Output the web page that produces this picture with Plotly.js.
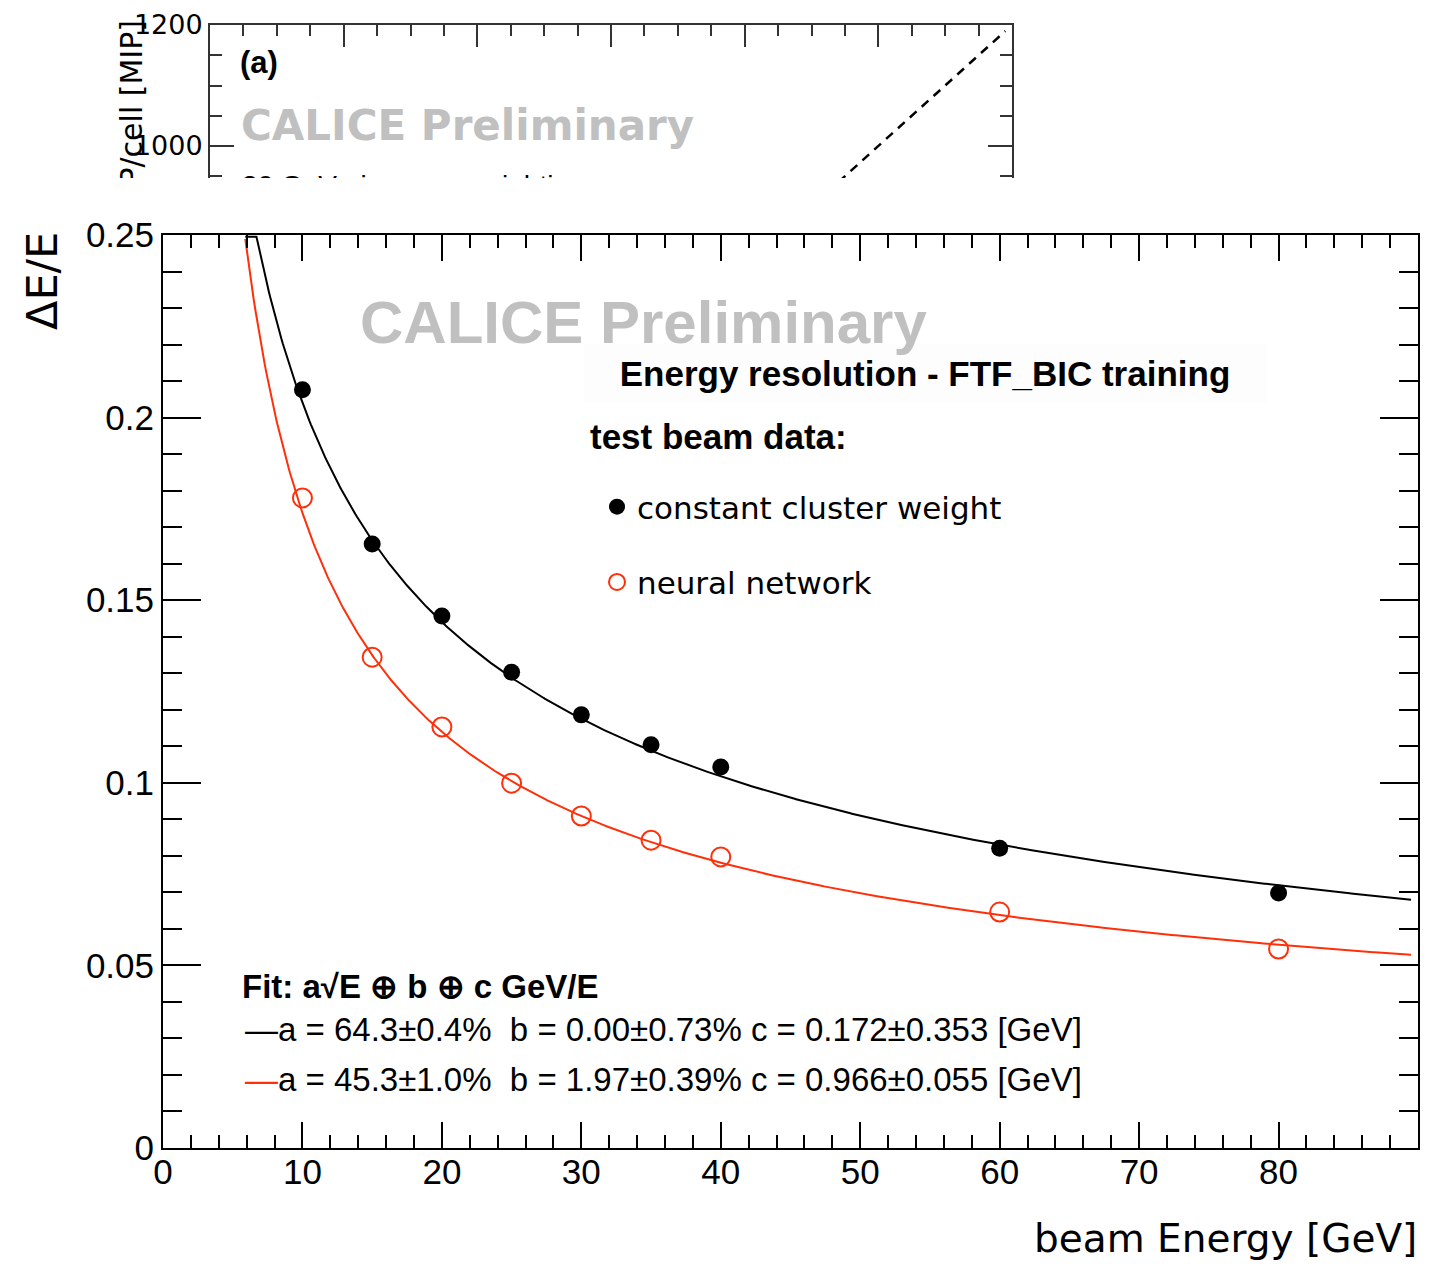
<!DOCTYPE html>
<html>
<head>
<meta charset="utf-8">
<script src="https://cdn.plot.ly/plotly-3.0.1.min.js"></script>
<style>html,body{margin:0;padding:0;background:#fff;}</style>
</head>
<body>
<div id="chart" style="width:1436px;height:1271px;"></div>
<script>
// Beam energies [GeV] and measured relative resolution dE/E
const beamEnergy = [10, 15, 20, 25, 30, 35, 40, 60, 80];
const resConstWeight = [0.2076, 0.1654, 0.1457, 0.1303, 0.1186, 0.1104, 0.1043, 0.0821, 0.0698];
const resNeuralNet = [0.1780, 0.1344, 0.1153, 0.0999, 0.0909, 0.0843, 0.0797, 0.0646, 0.0545];

// Fit parameters for a/sqrt(E) (+) b (+) c/E ; index 0 = constant weight, 1 = neural network
const fitA = [0.643, 0.453];
const fitAErr = [0.004, 0.010];
const fitB = [0.0000, 0.0197];
const fitBErr = [0.0073, 0.0039];
const fitC = [0.172, 0.966];
const fitCErr = [0.353, 0.055];
const fitRange = [5.9, 89.5];

// Upper panel: diagonal reference line (equal axes)
const refLineE = [0, 1190];

const seriesNames = ['constant cluster weight', 'neural network'];
const RED = '#ff2f0a';
const W = 1436, H = 1271;
const px = v => v / W;
const py = v => 1 - v / H;

function fitCurve(i) {
  const xs = [], ys = [];
  for (let e = fitRange[0]; e <= fitRange[1] + 1e-9; e += 0.1) {
    const s = Math.sqrt(fitA[i] * fitA[i] / e + fitB[i] * fitB[i] + (fitC[i] / e) * (fitC[i] / e));
    xs.push(e);
    ys.push(Math.min(s, 0.2495));
  }
  return {x: xs, y: ys};
}
const fit0 = fitCurve(0), fit1 = fitCurve(1);

function fitLabel(i, color) {
  const a = (fitA[i] * 100).toFixed(1), ae = (fitAErr[i] * 100).toFixed(1);
  const b = (fitB[i] * 100).toFixed(2), be = (fitBErr[i] * 100).toFixed(2);
  const c = fitC[i].toFixed(3), ce = fitCErr[i].toFixed(3);
  return '<span style="color:' + color + '">\u2014</span>a = ' + a + '\u00b1' + ae + '%\u00a0 b = ' + b + '\u00b1' + be +
    '% c = ' + c + '\u00b1' + ce + ' [GeV]';
}

const traces = [
  {x: fit0.x, y: fit0.y, mode: 'lines', line: {color: '#000', width: 2}, showlegend: false, hoverinfo: 'skip'},
  {x: fit1.x, y: fit1.y, mode: 'lines', line: {color: RED, width: 2}, showlegend: false, hoverinfo: 'skip'},
  {x: beamEnergy, y: resConstWeight, mode: 'markers', name: seriesNames[0], legendgroup: 'g0',
   marker: {symbol: 'circle', size: 17, color: '#000'}, cliponaxis: false},
  {x: beamEnergy, y: resNeuralNet, mode: 'markers', name: seriesNames[1], legendgroup: 'g1',
   marker: {symbol: 'circle-open', size: 19, color: RED, line: {color: RED, width: 2}}, cliponaxis: false},
  // upper panel
  {x: refLineE, y: refLineE, xaxis: 'x2', yaxis: 'y2', mode: 'lines', showlegend: false,
   line: {color: '#000', width: 2.5, dash: '9px,7px'}},
  {x: [48], y: [931], xaxis: 'x2', yaxis: 'y2', mode: 'text', showlegend: false, cliponaxis: true,
   text: ['30 GeV pions, no weighting'], textposition: 'middle right',
   textfont: {family: 'Liberation Sans, Arial, sans-serif', size: 28, color: '#000'}}
];

const tickFontMain = {family: 'Liberation Sans, Arial, sans-serif', size: 35, color: '#000'};

const layout = {
  width: W, height: H, autosize: false,
  margin: {l: 0, r: 0, t: 0, b: 0},
  paper_bgcolor: '#fff', plot_bgcolor: '#fff',
  showlegend: true,
  xaxis: {
    domain: [px(163), px(1418)], range: [0, 90], anchor: 'y',
    tick0: 0, dtick: 10, ticks: 'inside', ticklen: 26, tickwidth: 2, tickcolor: '#000',
    minor: {dtick: 2, ticks: 'inside', ticklen: 13, tickwidth: 2, tickcolor: '#000'},
    showline: true, linewidth: 2, linecolor: '#000', mirror: 'ticks',
    showgrid: false, zeroline: false, automargin: false, tickfont: tickFontMain,
    ticklabelstandoff: -8
  },
  yaxis: {
    domain: [py(1148), py(235)], range: [0, 0.25], anchor: 'x',
    tick0: 0, dtick: 0.05, ticks: 'inside', ticklen: 38, tickwidth: 2, tickcolor: '#000',
    minor: {dtick: 0.01, ticks: 'inside', ticklen: 19, tickwidth: 2, tickcolor: '#000'},
    showline: true, linewidth: 2, linecolor: '#000', mirror: 'ticks',
    showgrid: false, zeroline: false, automargin: false, tickfont: tickFontMain
  },
  xaxis2: {
    domain: [px(210), px(1012)], range: [0, 1200], anchor: 'y2', side: 'top',
    tick0: 0, dtick: 200, ticks: 'inside', ticklen: 22, tickwidth: 2, tickcolor: '#333',
    minor: {dtick: 50, ticks: 'inside', ticklen: 11, tickwidth: 2, tickcolor: '#333'},
    showline: true, linewidth: 2, linecolor: '#333', mirror: false,
    showticklabels: false, showgrid: false, zeroline: false, automargin: false
  },
  yaxis2: {
    domain: [py(178), py(25)], range: [947.1, 1200], anchor: 'x2',
    tick0: 0, dtick: 200, ticks: 'inside', ticklen: 24, tickwidth: 2, tickcolor: '#333',
    minor: {dtick: 50, ticks: 'inside', ticklen: 12, tickwidth: 2, tickcolor: '#333'},
    showline: true, linewidth: 2, linecolor: '#333', mirror: 'ticks',
    showgrid: false, zeroline: false, automargin: false,
    tickfont: {family: 'DejaVu Sans, sans-serif', size: 27, color: '#000'}
  },
  legend: {
    x: px(597), y: py(480), xanchor: 'left', yanchor: 'top',
    bgcolor: 'rgba(0,0,0,0)', borderwidth: 0, tracegroupgap: 32,
    font: {family: 'DejaVu Sans, sans-serif', size: 31, color: '#000'}
  },
  annotations: [
    // upper panel texts
    {text: '<b>(a)</b>', x: px(238), y: py(62), xref: 'paper', yref: 'paper', xanchor: 'left', yanchor: 'middle',
     showarrow: false, font: {family: 'Liberation Sans, Arial, sans-serif', size: 31, color: '#000'}},
    {text: '<b>CALICE Preliminary</b>', x: px(239), y: py(125), xref: 'paper', yref: 'paper', xanchor: 'left', yanchor: 'middle',
     showarrow: false, font: {family: 'DejaVu Sans, sans-serif', size: 42, color: '#c0c0c0'}},
    {text: 'MIP/cell [MIP]', x: px(131), y: py(99), xref: 'paper', yref: 'paper', xanchor: 'center', yanchor: 'middle',
     textangle: -90, width: 158, height: 34, align: 'right', borderpad: 0, showarrow: false,
     font: {family: 'DejaVu Sans, sans-serif', size: 30, color: '#000'}},
    // main panel texts
    {text: '<b>Energy resolution - FTF_BIC training</b>', x: px(925), y: py(373), xref: 'paper', yref: 'paper',
     xanchor: 'center', yanchor: 'middle', width: 680, height: 56, align: 'center', bgcolor: '#fdfdfd',
     showarrow: false, font: {family: 'Liberation Sans, Arial, sans-serif', size: 35, color: '#000'}},
    {text: '<b>CALICE Preliminary</b>', x: px(358), y: py(322), xref: 'paper', yref: 'paper', xanchor: 'left', yanchor: 'middle',
     showarrow: false, font: {family: 'Liberation Sans, Arial, sans-serif', size: 60, color: '#c0c0c0'}},
    {text: '<b>test beam data:</b>', x: px(588), y: py(437), xref: 'paper', yref: 'paper', xanchor: 'left', yanchor: 'middle',
     showarrow: false, font: {family: 'Liberation Sans, Arial, sans-serif', size: 35, color: '#000'}},
    {text: '<b>Fit: a\u221aE \u2295 b \u2295 c GeV/E</b>', x: px(240), y: py(986), xref: 'paper', yref: 'paper',
     xanchor: 'left', yanchor: 'middle', showarrow: false,
     font: {family: 'Liberation Sans, Arial, sans-serif', size: 33, color: '#000'}},
    {text: fitLabel(0, '#000'), x: px(243), y: py(1029), xref: 'paper', yref: 'paper', xanchor: 'left', yanchor: 'middle',
     showarrow: false, font: {family: 'Liberation Sans, Arial, sans-serif', size: 33, color: '#000'}},
    {text: fitLabel(1, RED), x: px(243), y: py(1079), xref: 'paper', yref: 'paper', xanchor: 'left', yanchor: 'middle',
     showarrow: false, font: {family: 'Liberation Sans, Arial, sans-serif', size: 33, color: '#000'}},
    // axis titles
    {text: 'beam Energy [GeV]', x: px(1419), y: py(1238), xref: 'paper', yref: 'paper', xanchor: 'right', yanchor: 'middle',
     showarrow: false, font: {family: 'DejaVu Sans, sans-serif', size: 39, color: '#000'}},
    {text: '\u0394E/E', x: px(42), y: py(281), xref: 'paper', yref: 'paper', xanchor: 'center', yanchor: 'middle',
     textangle: -90, showarrow: false, font: {family: 'DejaVu Sans, sans-serif', size: 43, color: '#000'}}
  ]
};

Plotly.newPlot('chart', traces, layout, {staticPlot: true, displayModeBar: false});
</script>
</body>
</html>
